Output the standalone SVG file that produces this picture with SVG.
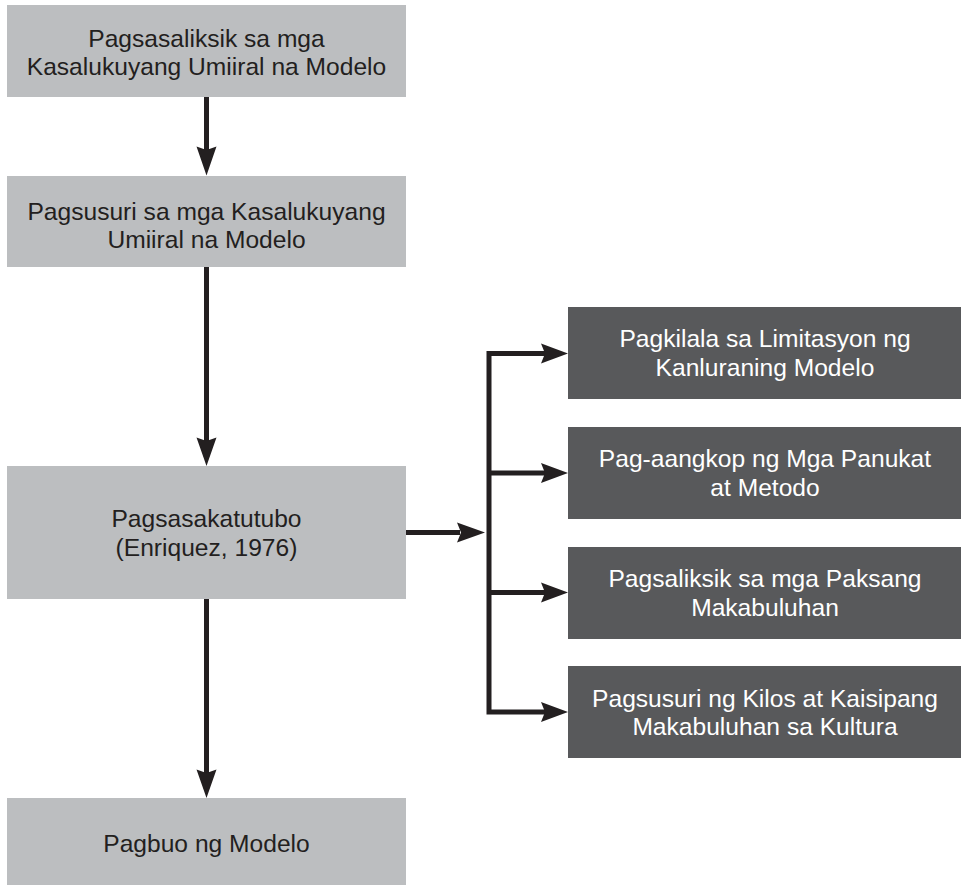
<svg xmlns="http://www.w3.org/2000/svg" width="961" height="885" viewBox="0 0 961 885">
<defs>
<style>
.light{fill:#bcbec0;}
.dark{fill:#58595b;}
.t{font-family:"Liberation Sans",Arial,Helvetica,sans-serif;font-size:24.6px;text-anchor:middle;}
.tl{fill:#231f20;}
.tw{fill:#ffffff;}
.ln{stroke:#231f20;stroke-width:5;fill:none;stroke-linejoin:miter;}
.hd{fill:#231f20;}
</style>
</defs>
<rect width="961" height="885" fill="#ffffff"/>
<g id="n1">
<rect class="light" x="7" y="5" width="399" height="92"/>
<text class="t tl" x="206.5" y="47">Pagsasaliksik sa mga</text>
<text class="t tl" x="206.5" y="74.5">Kasalukuyang Umiiral na Modelo</text>
</g>
<g id="n2">
<rect class="light" x="7" y="176" width="399" height="91"/>
<text class="t tl" x="206.5" y="219.5">Pagsusuri sa mga Kasalukuyang</text>
<text class="t tl" x="206.5" y="248">Umiiral na Modelo</text>
</g>
<g id="n3">
<rect class="light" x="7" y="466" width="399" height="133"/>
<text class="t tl" x="206.5" y="527">Pagsasakatutubo</text>
<text class="t tl" x="206.5" y="555.5">(Enriquez, 1976)</text>
</g>
<g id="n4">
<rect class="light" x="7" y="798" width="399" height="87"/>
<text class="t tl" x="206.5" y="852">Pagbuo ng Modelo</text>
</g>
<g id="r1">
<rect class="dark" x="568" y="307" width="393" height="92"/>
<text class="t tw" x="765" y="347">Pagkilala sa Limitasyon ng</text>
<text class="t tw" x="765" y="375.5">Kanluraning Modelo</text>
</g>
<g id="r2">
<rect class="dark" x="568" y="427" width="393" height="92"/>
<text class="t tw" x="765" y="467">Pag-aangkop ng Mga Panukat</text>
<text class="t tw" x="765" y="495.5">at Metodo</text>
</g>
<g id="r3">
<rect class="dark" x="568" y="547" width="393" height="92"/>
<text class="t tw" x="765" y="587">Pagsaliksik sa mga Paksang</text>
<text class="t tw" x="765" y="615.5">Makabuluhan</text>
</g>
<g id="r4">
<rect class="dark" x="568" y="666" width="393" height="92"/>
<text class="t tw" x="765" y="707">Pagsusuri ng Kilos at Kaisipang</text>
<text class="t tw" x="765" y="735">Makabuluhan sa Kultura</text>
</g>
<g id="connectors">
<line class="ln" x1="206.5" y1="97" x2="206.5" y2="150"/>
<path class="hd" d="M206.5,175.5 L196.5,146.5 L206.5,150 L216.5,146.5 Z"/>
<line class="ln" x1="206.5" y1="267" x2="206.5" y2="441"/>
<path class="hd" d="M206.5,466 L196.5,437.5 L206.5,441 L216.5,437.5 Z"/>
<line class="ln" x1="206.5" y1="599" x2="206.5" y2="773"/>
<path class="hd" d="M206.5,798 L196.5,769.5 L206.5,773 L216.5,769.5 Z"/>
<line class="ln" x1="406" y1="532.5" x2="460" y2="532.5"/>
<path class="hd" d="M485,532.5 L457,522.5 L461,532.5 L457,542.5 Z"/>
<path class="ln" d="M545,353.5 H489 V712 H545"/>
<line class="ln" x1="489" y1="473" x2="545" y2="473"/>
<line class="ln" x1="489" y1="592.5" x2="545" y2="592.5"/>
<path class="hd" d="M568,353.5 L541,343.5 L545,353.5 L541,363.5 Z"/>
<path class="hd" d="M568,473 L541,463 L545,473 L541,483 Z"/>
<path class="hd" d="M568,592.5 L541,582.5 L545,592.5 L541,602.5 Z"/>
<path class="hd" d="M568,712 L541,702 L545,712 L541,722 Z"/>
</g>
</svg>
